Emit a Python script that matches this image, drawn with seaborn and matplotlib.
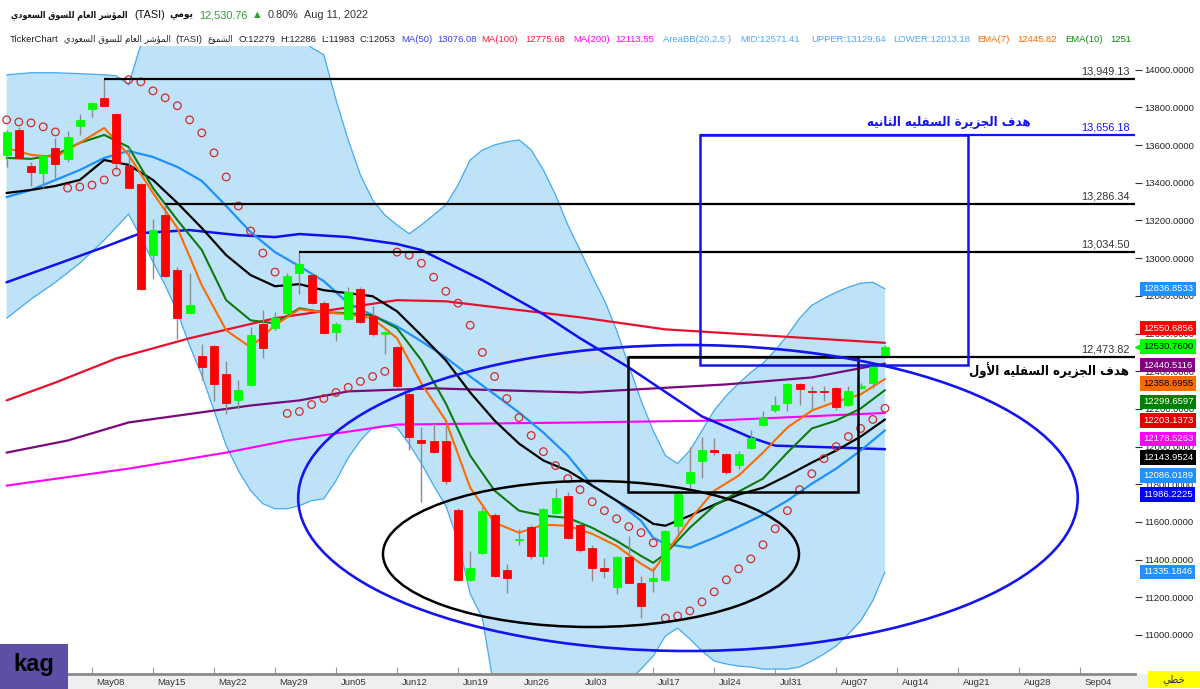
# TASI daily chart with Bollinger area, moving averages, SAR and target boxes
import numpy as np
import matplotlib
matplotlib.use("Agg")
import matplotlib.pyplot as plt
from matplotlib.patches import Rectangle, Ellipse
from matplotlib.transforms import blended_transform_factory, ScaledTranslation
import seaborn as sns

# ---- candles (index 0 = first candle on screen, last = Aug 11 2022)
opens = [13548, 13681, 13489, 13451, 13584, 13527, 13704, 13791, 13849, 13764,
         13489, 13394, 13016, 13229, 12936, 12709, 12482, 12536, 12385, 12245,
         12328, 12653, 12631, 12709, 12922, 12910, 12764, 12608, 12676, 12834,
         12691, 12600, 12528, 12279, 12037, 12032, 12027, 11663, 11291, 11435,
         11638, 11346, 11505, 11571, 11420, 11649, 11736, 11585, 11464, 11355,
         11257, 11415, 11278, 11284, 11291, 11580, 11805, 11922, 11982, 11959,
         11903, 11993, 12112, 12195, 12231, 12330, 12295, 12296, 12310, 12223,
         12310, 12337, 12475]
highs = [13680, 13698, 13512, 13550, 13637, 13676, 13764, 13831, 13949.13, 13770,
         13589, 13400, 13206, 13286.34, 12952, 12919, 12543, 12540, 12452, 12351,
         12635, 12727, 12714, 12922, 13034.50, 12915, 12770, 12660, 12847, 12845,
         12745, 12612, 12535, 12286, 12103, 12124, 12115, 11672, 11447, 11681,
         11645, 11376, 11562, 11585, 11675, 11780, 11757, 11606, 11475, 11406,
         11420, 11527, 11314, 11362, 11555, 11755, 11996, 12050, 12046, 11965,
         11975, 12090, 12191, 12266, 12340, 12335, 12324, 12324, 12315, 12319,
         12335, 12440, 12540]
lows = [13486, 13525, 13383, 13371, 13424, 13512, 13654, 13748, 13805, 13468,
        13370, 12830, 12892, 12900, 12573, 12702, 12351, 12241, 12174, 12197,
        12320, 12470, 12620, 12700, 12812, 12755, 12600, 12560, 12670, 12655,
        12585, 12493, 12315, 11983, 11704, 11965, 11802, 11285, 11288, 11430,
        11310, 11225, 11477, 11403, 11376, 11640, 11510, 11443, 11287, 11305,
        11217, 11275, 11089, 11230, 11285, 11530, 11780, 11834, 11956, 11855,
        11881, 11988, 12107, 12183, 12191, 12223, 12200, 12241, 12195, 12218,
        12305, 12312, 12470]
closes = [13672, 13530, 13459, 13543, 13498, 13642, 13734, 13823, 13809, 13507,
          13374, 12834, 13149, 12906, 12682, 12750, 12422, 12334, 12232, 12298,
          12590, 12525, 12685, 12904, 12968, 12762, 12603, 12653, 12821, 12661,
          12596, 12608, 12319, 12053, 12018, 11973, 11819, 11291, 11355, 11660,
          11314, 11305, 11510, 11420, 11669, 11727, 11514, 11452, 11353, 11340,
          11415, 11278, 11154, 11302, 11550, 11748, 11863, 11984, 11973, 11867,
          11959, 12046, 12151, 12223, 12333, 12303, 12290, 12290, 12209, 12294,
          12324, 12431, 12530.76]

# parabolic SAR, one value per candle
sar = [13734, 13723, 13718, 13697, 13670, 13372, 13378, 13388, 13415, 13457,
       13947, 13936, 13888, 13851, 13809, 13734, 13665, 13559, 13431, 13277,
       13144, 13027, 12926, 12176, 12186, 12223, 12255, 12287, 12314, 12346,
       12372, 12399, 13032, 13016, 12973, 12899, 12824, 12761, 12644, 12500,
       12372, 12255, 12154, 12059, 11973, 11899, 11830, 11771, 11707, 11660,
       11617, 11575, 11543, 11489, 11090, 11101, 11128, 11176, 11229, 11293,
       11351, 11404, 11479, 11564, 11660, 11771, 11856, 11936, 12000, 12053,
       12096, 12144, 12203.14]

# fast lines read every second candle
fast_idx = [0, 2, 4, 6, 8, 10, 12, 14, 16, 18, 20, 22, 24, 26, 28, 30, 32, 34, 36,
            38, 40, 42, 44, 46, 48, 50, 52, 53, 54, 56, 58, 60, 62, 64, 66, 68, 70, 72]
ema7 = [13585, 13548, 13537, 13612, 13691, 13548, 13346, 13160, 12856, 12617,
        12527, 12644, 12729, 12713, 12702, 12681, 12575, 12335, 12138, 11782,
        11596, 11543, 11585, 11580, 11537, 11473, 11378, 11340, 11431, 11612,
        11766, 11846, 11968, 12101, 12191, 12239, 12277, 12358.70]
ema10 = [13532, 13527, 13548, 13612, 13654, 13590, 13372, 13202, 13043, 12777,
         12670, 12654, 12734, 12713, 12708, 12697, 12628, 12458, 12229, 11952,
         11766, 11660, 11633, 11622, 11569, 11500, 11420, 11383, 11431, 11569,
         11686, 11761, 11830, 11968, 12096, 12138, 12202, 12299.66]
ema_black = [13346, 13362, 13383, 13415, 13521, 13495, 13415, 13293, 13160, 13016,
             12910, 12851, 12862, 12830, 12814, 12798, 12718, 12590, 12458, 12287,
             12138, 12016, 11926, 11872, 11793, 11713, 11633, 11590, 11580, 11633,
             11691, 11745, 11782, 11846, 11915, 11979, 12053, 12143.95]
bb_mid = [13324, 13362, 13415, 13468, 13532, 13569, 13537, 13484, 13410, 13277,
          13138, 13032, 12957, 12878, 12761, 12697, 12638, 12559, 12473, 12372,
          12277, 12181, 12074, 11952, 11793, 11713, 11606, 11516, 11484, 11463,
          11516, 11575, 11638, 11713, 11803, 11883, 11979, 12086.02]

# slow lines
ma50_idx = [0, 8, 11, 15, 19, 22, 24, 28, 32, 34, 39, 44, 47, 51, 57, 61, 63, 68, 72]
ma50 = [12872, 13059, 13133, 13149, 13122, 13112, 13128, 13112, 13075, 13043,
        12883, 12702, 12575, 12420, 12160, 12048, 12005, 11995, 11986.22]
ma100_idx = [0, 4, 9, 15, 22, 32, 36, 47, 54, 72]
ma100 = [12245, 12340, 12468, 12575, 12681, 12777, 12771, 12686, 12622, 12550.69]
purple_idx = [0, 5, 10, 20, 24, 28, 35, 47, 59, 66, 72]
purple = [11968, 12032, 12128, 12218, 12245, 12293, 12309, 12287, 12330, 12367, 12440.51]
ma200_idx = [0, 10, 18, 23, 32, 47, 58, 72]
ma200 = [11793, 11883, 11968, 12032, 12117, 12128, 12138, 12178.53]

# Bollinger area (20, 2.5)
bb_idx = [0, 2, 4, 6, 8] + list(range(9, 73))
bb_upper = [13973, 13984, 13984, 13979, 13973, 13968, 13920, 14133, 14213, 14319,
            14426, 14479, 14532, 14558, 14558, 14532, 14505, 14426, 14346, 14266,
            14186, 14117, 14080, 13840, 13628, 13442, 13309, 13229, 13176, 13130,
            13176, 13229, 13282, 13388, 13521, 13574, 13601, 13617, 13628, 13574,
            13468, 13335, 13176, 13043, 12904, 12777, 12617, 12431, 12245, 12085,
            11952, 11910, 11979, 12085, 12192, 12271, 12335, 12394, 12442, 12511,
            12590, 12681, 12750, 12787, 12819, 12846, 12867, 12872, 12836.85]
bb_lower = [12681, 12782, 12872, 12973, 13096, 13165, 13234, 13112, 12979, 12856,
            12713, 12537, 12378, 12192, 12005, 11872, 11766, 11697, 11670, 11670,
            11686, 11713, 11723, 11819, 11941, 12032, 12101, 12112, 12101, 12013,
            11910, 11793, 11686, 11500, 11218, 11090, 10702, 10543, 10489, 10463,
            10436, 10436, 10463, 10516, 10569, 10622, 10702, 10755, 10819, 10888,
            10995, 11037, 10979, 10915, 10862, 10846, 10835, 10830, 10819, 10819,
            10819, 10830, 10862, 10899, 10942, 11005, 11075, 11181, 11335.18]

# horizontal levels drawn on the chart
levels = [13949.13, 13286.34, 13034.50, 12473.82]
level_start = [8, 13, 24, 51]
blue_level = 13656.18

# date axis
tick_idx = [7, 12, 17, 22, 27, 32, 37, 42, 47, 51, 53, 58, 63, 68, 73, 78, 83, 88]
tick_lbl = ["May08", "May15", "May22", "May29", "Jun05", "Jun12", "Jun19", "Jun26",
            "Jul03", "", "Jul17", "Jul24", "Jul31", "Aug07", "Aug14", "Aug21", "Aug28", "Sep04"]

# last-value labels on the price axis
tag_vals = [12836.8533, 12550.6856, 12530.76, 12440.5116, 12358.6955, 12299.6597,
            12203.1373, 12178.5263, 12143.9524, 12086.0189, 11986.2225, 11335.1846]
tag_bg = ["#1E90FF", "#FF0000", "#00FF00", "#800080", "#FF6A00", "#008000",
          "#E00000", "#FF00FF", "#000000", "#1E90FF", "#0000FF", "#1E90FF"]
tag_fg = ["white", "white", "black", "white", "black", "white",
          "white", "white", "white", "white", "white", "white"]

# drawn shapes (index / price units)
blue_box = (56.85, 12433, 78.8, blue_level)
black_box = (50.9, 11759, 69.8, 12473.82)
black_ell = (47.9, 11430, 34.1, 775)
blue_ell = (55.85, 11727, 63.9, 1624)

# ---- tiny arabic shaper (presentation forms + right-to-left order)
FORMS = {
    'ا': ('\uFE8D', '\uFE8E', None, None), 'أ': ('\uFE83', '\uFE84', None, None),
    'ة': ('\uFE93', '\uFE94', None, None), 'د': ('\uFEA9', '\uFEAA', None, None),
    'ر': ('\uFEAD', '\uFEAE', None, None), 'ز': ('\uFEAF', '\uFEB0', None, None),
    'و': ('\uFEED', '\uFEEE', None, None), 'ؤ': ('\uFE85', '\uFE86', None, None),
    'ث': ('\uFE99', '\uFE9A', '\uFE9B', '\uFE9C'), 'ج': ('\uFE9D', '\uFE9E', '\uFE9F', '\uFEA0'),
    'خ': ('\uFEA5', '\uFEA6', '\uFEA7', '\uFEA8'), 'س': ('\uFEB1', '\uFEB2', '\uFEB3', '\uFEB4'),
    'ش': ('\uFEB5', '\uFEB6', '\uFEB7', '\uFEB8'), 'ط': ('\uFEC1', '\uFEC2', '\uFEC3', '\uFEC4'),
    'ع': ('\uFEC9', '\uFECA', '\uFECB', '\uFECC'), 'ف': ('\uFED1', '\uFED2', '\uFED3', '\uFED4'),
    'ق': ('\uFED5', '\uFED6', '\uFED7', '\uFED8'), 'ل': ('\uFEDD', '\uFEDE', '\uFEDF', '\uFEE0'),
    'م': ('\uFEE1', '\uFEE2', '\uFEE3', '\uFEE4'), 'ن': ('\uFEE5', '\uFEE6', '\uFEE7', '\uFEE8'),
    'ه': ('\uFEE9', '\uFEEA', '\uFEEB', '\uFEEC'), 'ي': ('\uFEF1', '\uFEF2', '\uFEF3', '\uFEF4'),
}


def ar(s):
    out = []
    i = 0
    while i < len(s):
        c = s[i]
        if c not in FORMS:
            out.append(c)
            i += 1
            continue
        prev = s[i - 1] if i > 0 else ''
        pj = prev in FORMS and FORMS[prev][2] is not None
        if c == 'ل' and i + 1 < len(s) and s[i + 1] == 'أ':
            out.append('\uFEF8' if pj else '\uFEF7')
            i += 2
            continue
        nj = (i + 1 < len(s)) and s[i + 1] in FORMS
        iso, fin, ini, med = FORMS[c]
        if ini is None:
            out.append(fin if pj else iso)
        elif pj and nj:
            out.append(med)
        elif pj:
            out.append(fin)
        elif nj:
            out.append(ini)
        else:
            out.append(iso)
        i += 1
    return ''.join(out)[::-1]


# ---- figure
sns.set_theme(style="white")
plt.rcParams['font.family'] = ['Liberation Sans', 'DejaVu Sans']
AR = dict(family="DejaVu Sans", stretch="condensed")

W, H = 1200, 689
fig = plt.figure(figsize=(12, 6.89), dpi=100)
ax = fig.add_axes([0, 15 / H, 1135 / W, (674 - 46) / H])
ax.set_xlim(-6.6 / 12.2, (1135 - 6.6) / 12.2)
ax.set_ylim(10793, 14126)
ax.set_facecolor("white")
fig.canvas.draw()
rend = fig.canvas.get_renderer()


def fit(t, maxw):
    # shrink a text until it is no wider than maxw pixels
    w = t.get_window_extent(rend).width
    if w > maxw:
        t.set_fontsize(t.get_fontsize() * maxw / w)
    return min(w, maxw)


# bollinger area
ax.fill_between(bb_idx, bb_lower, bb_upper, color="#BEE3F8", lw=0, zorder=1)
sns.lineplot(x=bb_idx, y=bb_upper, color="#43A9F0", linewidth=0.9, ax=ax, zorder=1.5)
sns.lineplot(x=bb_idx, y=bb_lower, color="#43A9F0", linewidth=0.9, ax=ax, zorder=1.5)

ax.text(40.0, 12470, "TickerChart", fontsize=16, weight="bold", color="#CFDDE8",
        ha="left", va="center", zorder=1.2)

# moving averages
sns.lineplot(x=ma100_idx, y=ma100, color="#E8102C", linewidth=1.6, ax=ax, zorder=2)
sns.lineplot(x=purple_idx, y=purple, color="#7A0A7A", linewidth=1.6, ax=ax, zorder=2)
sns.lineplot(x=ma200_idx, y=ma200, color="#FF00FF", linewidth=1.5, ax=ax, zorder=2)
sns.lineplot(x=ma50_idx, y=ma50, color="#1010F0", linewidth=1.8, ax=ax, zorder=2)
sns.lineplot(x=fast_idx, y=bb_mid, color="#1E90FF", linewidth=1.6, ax=ax, zorder=2.1)
sns.lineplot(x=fast_idx, y=ema_black, color="black", linewidth=1.6, ax=ax, zorder=2.2)
sns.lineplot(x=fast_idx, y=ema10, color="#0E7A0E", linewidth=1.5, ax=ax, zorder=2.3)
sns.lineplot(x=fast_idx, y=ema7, color="#FF6A00", linewidth=1.5, ax=ax, zorder=2.4)

# candles
idx = np.arange(len(closes))
o = np.array(opens)
c = np.array(closes)
col = np.where(c >= o, "#00FF00", "#FF0000")
ax.vlines(idx, lows, highs, color="#8C8C8C", lw=1, zorder=3)
ax.bar(idx, np.abs(c - o), bottom=np.minimum(o, c), width=0.66, color=col,
       edgecolor=col, linewidth=0.6, zorder=3.5)

# parabolic sar
ax.scatter(idx, sar, s=30, facecolors="none", edgecolors="#D42A2A", linewidths=0.9, zorder=4)

# levels
xr = ax.get_xlim()[1]
lbl_tr = blended_transform_factory(ax.transAxes, ax.transData) + \
    ScaledTranslation(0, 0.025, fig.dpi_scale_trans)
for lv, st in zip(levels, level_start):
    ax.hlines(lv, st, xr, color="black", lw=1.6, zorder=5)
    ax.text(1130 / 1135, lv, f"{lv:,.2f}", transform=lbl_tr, ha="right", va="bottom",
            fontsize=7.8, color="#333333", zorder=6)
ax.hlines(blue_level, blue_box[0], xr, color="#1414F0", lw=1.6, zorder=5)
ax.text(1130 / 1135, blue_level, f"{blue_level:,.2f}", transform=lbl_tr, ha="right",
        va="bottom", fontsize=7.8, color="#1414F0", zorder=6)

# boxes and ellipses
bx0, by0, bx1, by1 = blue_box
ax.add_patch(Rectangle((bx0, by0), bx1 - bx0, by1 - by0, fill=False, ec="#1414F0", lw=1.8, zorder=5))
kx0, ky0, kx1, ky1 = black_box
ax.add_patch(Rectangle((kx0, ky0), kx1 - kx0, ky1 - ky0, fill=False, ec="black", lw=1.8, zorder=5))
ax.add_patch(Ellipse(black_ell[:2], black_ell[2], black_ell[3], fill=False, ec="black", lw=1.8, zorder=5))
ax.add_patch(Ellipse(blue_ell[:2], blue_ell[2], blue_ell[3], fill=False, ec="#1414F0", lw=1.9, zorder=5))

t_blue = ax.text(83.9, 13722, ar("هدف الجزيرة السفليه الثانيه"), ha="right", va="center",
                 fontsize=10.5, weight="bold", color="#1414F0", zorder=6, **AR)
fit(t_blue, 165)
t_blk = ax.text(92.0, 12405, ar("هدف الجزيره السفليه الأول"), ha="right", va="center",
                fontsize=10, weight="bold", color="black", zorder=6, **AR)
fit(t_blk, 160)

# axes styling
for s in ["top", "left", "right"]:
    ax.spines[s].set_visible(False)
ax.spines["bottom"].set_color("#8A8A8A")
ax.spines["bottom"].set_linewidth(2)
ax.spines["bottom"].set_zorder(7)

ax.yaxis.tick_right()
ax.set_yticks(np.arange(11000, 14001, 200))
ax.set_yticklabels([f"{v:.4f}" for v in np.arange(11000, 14001, 200)])
ax.tick_params(axis="y", right=True, length=5, width=0.8, color="#333333",
               labelsize=6.8, labelcolor="#222222", pad=1.5)
ax.set_xticks(tick_idx)
ax.set_xticklabels(tick_lbl, ha="left")
ax.tick_params(axis="x", bottom=True, direction="in", length=5, width=0.8,
               color="#9A9A9A", labelsize=6.8, labelcolor="#333333", pad=3)
for t in ax.get_xticklabels():
    t.set_transform(t.get_transform() + ScaledTranslation(0.045, 0, fig.dpi_scale_trans))
ax.grid(False)
ax.set_xlabel("")
ax.set_ylabel("")

# last value tags, pushed apart so they do not overlap
gap = 98.0
anchor = 2
pos = list(tag_vals)
for k in range(anchor - 1, -1, -1):
    pos[k] = max(tag_vals[k], pos[k + 1] + gap)
for k in range(anchor + 1, len(tag_vals)):
    pos[k] = min(tag_vals[k], pos[k - 1] - gap)
tag_tr = blended_transform_factory(ax.transAxes, ax.transData)
for v, p, bg, fg in zip(tag_vals, pos, tag_bg, tag_fg):
    ax.text(1143 / 1135, p, f"{v:.4f}", transform=tag_tr, ha="left", va="center",
            fontsize=6.8, color=fg, clip_on=False, zorder=8,
            bbox=dict(boxstyle="square,pad=0.3", fc=bg, ec="none"))
ax.plot([1139 / 1135], [pos[anchor]], marker="<", ms=6, color="#00FF00",
        transform=tag_tr, clip_on=False, zorder=8)

# bottom strip, corner boxes
fig.patches.append(Rectangle((68 / W, 0), (1148 - 68) / W, 15 / H, transform=fig.transFigure,
                             fc="#EFEFEF", ec="none", zorder=-1))
fig.patches.append(Rectangle((0, 0), 68 / W, 45 / H, transform=fig.transFigure,
                             fc="#5B50A6", ec="none", zorder=10))
fig.text(34 / W, 1 - 665 / H, "kag", ha="center", va="center", fontsize=17,
         weight="bold", color="black", zorder=11)
fig.patches.append(Rectangle((1148 / W, 1 / H), 52 / W, 17 / H, transform=fig.transFigure,
                             fc="#FFFF00", ec="none", zorder=10))
fig.text(1174 / W, 1 - 680 / H, ar("خطي"), ha="center", va="center", fontsize=8,
         color="#333333", zorder=11, **AR)


def header_row(items, ypx, size):
    # items: (x px, text, colour, bold, arabic max width or 0)
    end = 0
    for xp, s, cl, bold, maxw in items:
        x0 = max(xp, end + 5)
        kw = dict(fontsize=size, color=cl, va="center",
                  weight="bold" if bold else "normal")
        if maxw:
            kw.update(AR)
        t = fig.text(x0 / W, 1 - ypx / H, s, **kw)
        w = fit(t, maxw) if maxw else t.get_window_extent(rend).width
        end = x0 + w


header_row([(11, ar("المؤشر العام للسوق السعودي"), "#111111", True, 118),
            (112, "(TASI)", "#111111", False, 0),
            (152, ar("يومي"), "#111111", True, 24),
            (184, "12,530.76", "#2E9E2E", False, 0),
            (235, "\u25B2", "#2E9E2E", False, 0),
            (255, "0.80%", "#333333", False, 0),
            (295, "Aug 11, 2022", "#333333", False, 0)], 15, 7.8)

header_row([(10, "TickerChart", "#222222", False, 0),
            (58, ar("المؤشر العام للسوق السعودي"), "#222222", False, 108),
            (158, "(TASI)", "#222222", False, 0),
            (183, ar("الشموع"), "#222222", False, 26),
            (203, "O:12279", "#222222", False, 0),
            (235, "H:12286", "#222222", False, 0),
            (269, "L:11983", "#222222", False, 0),
            (302, "C:12053", "#222222", False, 0),
            (394, "MA(50)", "#3B3BFF", False, 0), (434, "13076.08", "#3B3BFF", False, 0),
            (479, "MA(100)", "#FF1A3C", False, 0), (525, "12775.68", "#FF1A3C", False, 0),
            (573, "MA(200)", "#FF00FF", False, 0), (615, "12113.55", "#FF00FF", False, 0),
            (663, "AreaBB(20,2.5 )", "#4DA6FF", False, 0), (740, "MID:12571.41", "#4DA6FF", False, 0),
            (811, "UPPER:13129.64", "#4DA6FF", False, 0), (893, "LOWER:12013.18", "#4DA6FF", False, 0),
            (977, "EMA(7)", "#FF6A00", False, 0), (1017, "12445.82", "#FF6A00", False, 0),
            (1065, "EMA(10)", "#0A8A0A", False, 0), (1110, "1251", "#0A8A0A", False, 0)], 39, 6.8)

fig.savefig("out.png", dpi=100)
